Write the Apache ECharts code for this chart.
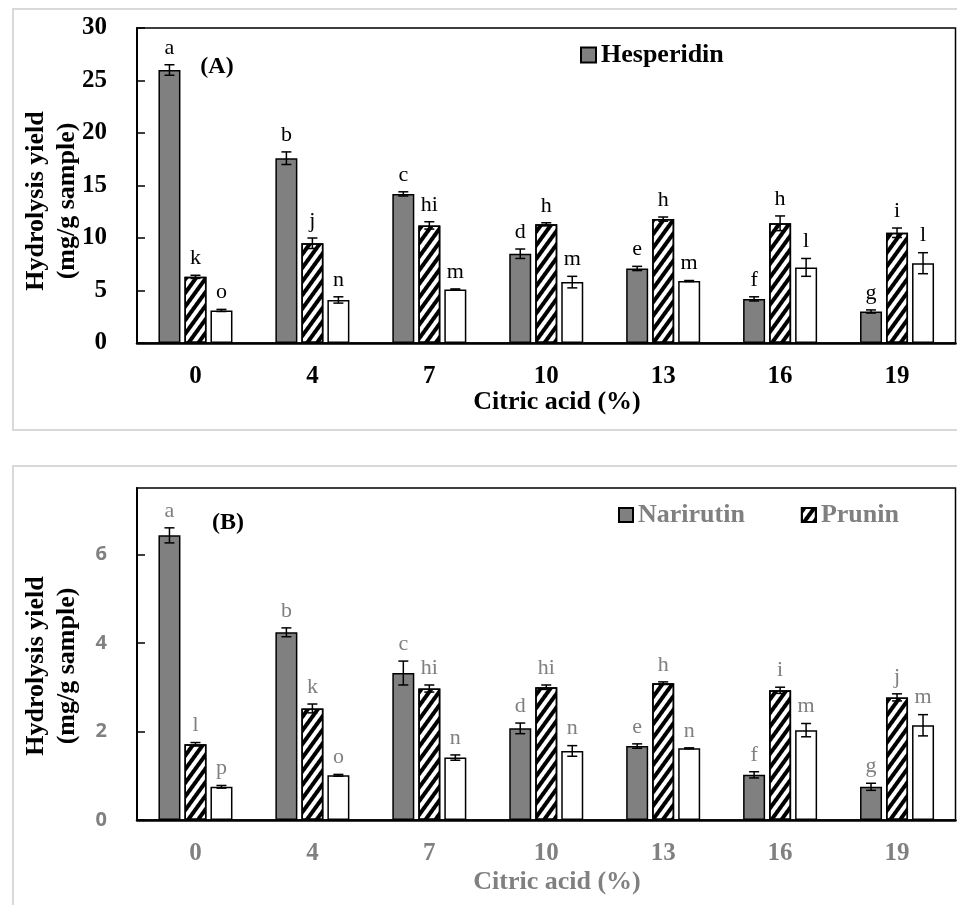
<!DOCTYPE html>
<html>
<head>
<meta charset="utf-8">
<script src="https://cdn.jsdelivr.net/npm/echarts@6/dist/echarts.min.js"></script>
<style>
html,body{margin:0;padding:0;background:#fff;}
#chart{width:957px;height:905px;}
</style>
</head>
<body>
<div id="chart"></div>
<script>
// ---------- data ----------
const categories = ['0', '4', '7', '10', '13', '16', '19'];

// Panel A
const hesperidin        = [26.0, 17.6, 14.2, 8.5, 7.1, 4.2, 3.0];
const hesperidinErr     = [0.5, 0.6, 0.2, 0.45, 0.2, 0.2, 0.15];
const hesperidinLetters = ['a', 'b', 'c', 'd', 'e', 'f', 'g'];
const aHatched          = [6.3, 9.5, 11.2, 11.3, 11.8, 11.4, 10.5];
const aHatchedErr       = [0.15, 0.5, 0.35, 0.15, 0.2, 0.7, 0.45];
const aHatchedLetters   = ['k', 'j', 'hi', 'h', 'h', 'h', 'i'];
const aWhite            = [3.1, 4.1, 5.1, 5.8, 5.9, 7.2, 7.6];
const aWhiteErr         = [0.1, 0.3, 0.05, 0.55, 0.05, 0.85, 1.0];
const aWhiteLetters     = ['o', 'n', 'm', 'm', 'm', 'l', 'l'];

// Panel B
const narirutin         = [6.43, 4.24, 3.32, 2.07, 1.67, 1.02, 0.75];
const narirutinErr      = [0.17, 0.1, 0.27, 0.12, 0.05, 0.07, 0.08];
const narirutinLetters  = ['a', 'b', 'c', 'd', 'e', 'f', 'g'];
const prunin            = [1.71, 2.52, 2.97, 3.0, 3.09, 2.93, 2.77];
const pruninErr         = [0.04, 0.1, 0.08, 0.05, 0.03, 0.07, 0.08];
const pruninLetters     = ['l', 'k', 'hi', 'hi', 'h', 'i', 'j'];
const bWhite            = [0.75, 1.01, 1.41, 1.56, 1.62, 2.03, 2.14];
const bWhiteErr         = [0.03, 0.02, 0.06, 0.12, 0.01, 0.15, 0.24];
const bWhiteLetters     = ['p', 'o', 'n', 'n', 'n', 'm', 'm'];

const yTicksA = {min: 0, max: 30, interval: 5};
const yTicksB = {min: 0, max: 7.5, interval: 2};

// ---------- styles ----------
const SERIF = '"Liberation Serif", "Times New Roman", serif';
const SANS = '"Open Sans", "Noto Sans", sans-serif';
const GRAY_TEXT = '#808080';
const BAR_GRAY = '#808080';
const BAR_W = 22;
const OFFSET = 26;

const hatch = {
  symbol: 'rect', symbolSize: 1, color: '#000',
  dashArrayX: [1, 0], dashArrayY: [4, 4], rotation: -Math.PI * 0.3
};

function barSeries(name, data, axis, fill, decal) {
  const s = {
    type: 'bar', name: name, xAxisIndex: axis, yAxisIndex: axis, data: data,
    barWidth: BAR_W, barGap: '18.2%',
    itemStyle: {color: fill, borderColor: '#000', borderWidth: 1.5}
  };
  if (decal) s.itemStyle.decal = decal;
  return s;
}

function errSeries(values, errs, letters, k, axis, textColor) {
  return {
    type: 'custom', xAxisIndex: axis, yAxisIndex: axis, silent: true, z: 5,
    data: values.map((v, i) => [i, v, errs[i]]),
    renderItem: function (params, api) {
      const i = api.value(0), v = api.value(1), e = api.value(2);
      const top = api.coord([i, v + e]);
      const bot = api.coord([i, v - e]);
      const x = top[0] + (k - 1) * OFFSET;
      const cw = 5;
      const ls = {stroke: '#000', lineWidth: 1.5};
      return {
        type: 'group',
        children: [
          {type: 'line', shape: {x1: x, y1: top[1], x2: x, y2: bot[1]}, style: ls},
          {type: 'line', shape: {x1: x - cw, y1: top[1], x2: x + cw, y2: top[1]}, style: ls},
          {type: 'line', shape: {x1: x - cw, y1: bot[1], x2: x + cw, y2: bot[1]}, style: ls},
          {type: 'text', style: {
            text: letters[params.dataIndex], x: x, y: top[1] - 6,
            align: 'center', verticalAlign: 'bottom',
            fontSize: 22, fontFamily: SERIF, fill: textColor
          }}
        ]
      };
    }
  };
}

function xAxis(grid, color) {
  return {
    gridIndex: grid, type: 'category', data: categories,
    axisLine: {lineStyle: {color: '#000', width: 2.5}},
    axisTick: {inside: true, length: 7, lineStyle: {color: '#000', width: 1.5}},
    axisLabel: {margin: 21, color: color, fontFamily: SERIF, fontWeight: 'bold', fontSize: 25},
    splitLine: {show: false}
  };
}

function yAxis(grid, ticks, labelStyle) {
  return Object.assign({
    gridIndex: grid, type: 'value',
    splitLine: {show: false},
    axisLine: {show: true, lineStyle: {color: '#000', width: 2}},
    axisTick: {show: true, inside: true, length: 8, lineStyle: {color: '#000', width: 1.5}},
    axisLabel: Object.assign({margin: 30, showMaxLabel: grid === 0}, labelStyle)
  }, ticks);
}

const option = {
  animation: false,
  backgroundColor: '#fff',
  grid: [
    {left: 137, top: 28, right: 1.5, height: 315, show: true, borderColor: '#000', borderWidth: 1.5},
    {left: 137, top: 488, right: 1.5, height: 332, show: true, borderColor: '#000', borderWidth: 1.5}
  ],
  xAxis: [xAxis(0, '#000'), xAxis(1, GRAY_TEXT)],
  yAxis: [
    yAxis(0, yTicksA, {color: '#000', fontFamily: SERIF, fontWeight: 'bold', fontSize: 25}),
    yAxis(1, yTicksB, {color: GRAY_TEXT, fontFamily: SANS, fontWeight: 'bold', fontSize: 20})
  ],
  legend: [
    {data: ['Hesperidin'], left: 580, top: 42, padding: 0, icon: 'rect', itemWidth: 15, itemHeight: 15,
     textStyle: {fontFamily: SERIF, fontWeight: 'bold', fontSize: 26, color: '#000'}},
    {data: ['Narirutin', 'Prunin'], left: 618, top: 502, padding: 0, icon: 'rect', itemWidth: 14, itemHeight: 14, itemGap: 56,
     textStyle: {fontFamily: SERIF, fontWeight: 'bold', fontSize: 26, color: GRAY_TEXT}}
  ],
  series: [
    barSeries('Hesperidin', hesperidin, 0, BAR_GRAY),
    barSeries('A hatched', aHatched, 0, '#fff', hatch),
    barSeries('A white', aWhite, 0, '#fff'),
    errSeries(hesperidin, hesperidinErr, hesperidinLetters, 0, 0, '#000'),
    errSeries(aHatched, aHatchedErr, aHatchedLetters, 1, 0, '#000'),
    errSeries(aWhite, aWhiteErr, aWhiteLetters, 2, 0, '#000'),

    barSeries('Narirutin', narirutin, 1, BAR_GRAY),
    barSeries('Prunin', prunin, 1, '#fff', hatch),
    barSeries('B white', bWhite, 1, '#fff'),
    errSeries(narirutin, narirutinErr, narirutinLetters, 0, 1, GRAY_TEXT),
    errSeries(prunin, pruninErr, pruninLetters, 1, 1, GRAY_TEXT),
    errSeries(bWhite, bWhiteErr, bWhiteLetters, 2, 1, GRAY_TEXT)
  ],
  graphic: [
    {type: 'rect', shape: {x: 13, y: 9, width: 960, height: 421}, style: {fill: 'none', stroke: '#d9d9d9', lineWidth: 2}, z: -10},
    {type: 'rect', shape: {x: 13, y: 466, width: 960, height: 460}, style: {fill: 'none', stroke: '#d9d9d9', lineWidth: 2}, z: -10},
    {type: 'text', x: 217, y: 67, style: {text: '(A)', fontFamily: SERIF, fontWeight: 'bold', fontSize: 24, fill: '#000', align: 'center', verticalAlign: 'middle'}},
    {type: 'text', x: 228, y: 523, style: {text: '(B)', fontFamily: SERIF, fontWeight: 'bold', fontSize: 24, fill: '#000', align: 'center', verticalAlign: 'middle'}},
    {type: 'text', x: 52, y: 201, rotation: Math.PI / 2,
     style: {text: 'Hydrolysis yield\n(mg/g sample)', fontFamily: SERIF, fontWeight: 'bold', fontSize: 26, lineHeight: 31, fill: '#000', align: 'center', verticalAlign: 'middle'}},
    {type: 'text', x: 52, y: 666, rotation: Math.PI / 2,
     style: {text: 'Hydrolysis yield\n(mg/g sample)', fontFamily: SERIF, fontWeight: 'bold', fontSize: 26, lineHeight: 31, fill: '#000', align: 'center', verticalAlign: 'middle'}},
    {type: 'text', x: 557, y: 402, style: {text: 'Citric acid (%)', fontFamily: SERIF, fontWeight: 'bold', fontSize: 26, fill: '#000', align: 'center', verticalAlign: 'middle'}},
    {type: 'text', x: 557, y: 882, style: {text: 'Citric acid (%)', fontFamily: SERIF, fontWeight: 'bold', fontSize: 26, fill: GRAY_TEXT, align: 'center', verticalAlign: 'middle'}}
  ]
};

const chart = echarts.init(document.getElementById('chart'));
chart.setOption(option);
</script>
</body>
</html>
